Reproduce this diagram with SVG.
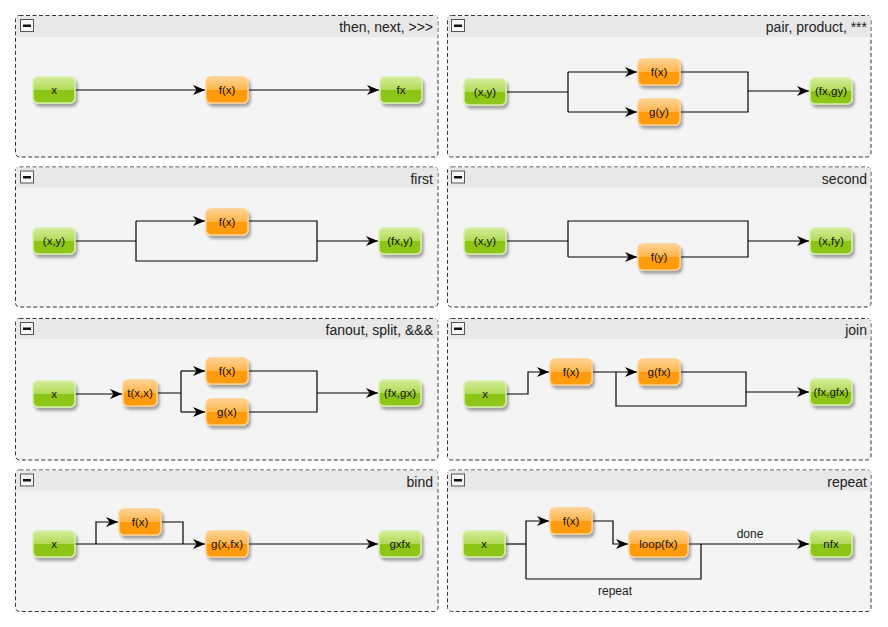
<svg xmlns="http://www.w3.org/2000/svg" width="888" height="627" viewBox="0 0 888 627">
<defs>
<linearGradient id="gOr" x1="0" y1="0" x2="0" y2="1">
<stop offset="0" stop-color="#ffd294"/><stop offset="0.5" stop-color="#ffb548"/><stop offset="0.5" stop-color="#ff9a08"/><stop offset="1" stop-color="#ff9c10"/>
</linearGradient>
<linearGradient id="gGr" x1="0" y1="0" x2="0" y2="1">
<stop offset="0" stop-color="#d2ee9a"/><stop offset="0.5" stop-color="#b0da55"/><stop offset="0.5" stop-color="#8cc414"/><stop offset="1" stop-color="#90c61c"/>
</linearGradient>
<filter id="sh" x="-30%" y="-30%" width="160%" height="170%">
<feGaussianBlur in="SourceAlpha" stdDeviation="1.6"/>
<feOffset dx="2" dy="2.5" result="b"/>
<feComponentTransfer><feFuncA type="linear" slope="0.35"/></feComponentTransfer>
<feMerge><feMergeNode/><feMergeNode in="SourceGraphic"/></feMerge>
</filter>
<marker id="arr" viewBox="0 0 12 10" refX="12" refY="5" markerWidth="12" markerHeight="10" markerUnits="userSpaceOnUse" orient="auto">
<path d="M0,0 L12,5 L0,10 L3.5,5 z" fill="#000"/>
</marker>
</defs>
<style>
.panel{fill:#f4f4f4;stroke:#333;stroke-width:1;stroke-dasharray:4,2.5}
.hdr{fill:#e8e8e8}
.btn{fill:#f6f6f6;stroke:#555;stroke-width:1}
.minus{fill:#111}
.title{font-family:"Liberation Sans",Arial,sans-serif;font-size:14px;fill:#222;text-anchor:end}
.or{fill:url(#gOr);stroke:#ffd08c;stroke-width:1.5;filter:url(#sh)}
.gr{fill:url(#gGr);stroke:#d6efa6;stroke-width:1.5;filter:url(#sh)}
.nt{font-family:"Liberation Sans",Arial,sans-serif;font-size:11.5px;fill:#111;text-anchor:middle}
.e{fill:none;stroke:#000;stroke-width:1.2}
.ea{fill:none;stroke:#000;stroke-width:1.2;marker-end:url(#arr)}
.lbl{font-family:"Liberation Sans",Arial,sans-serif;font-size:12px;fill:#222;text-anchor:middle}
</style>

<!-- panels -->
<g id="panel-then">
<rect class="panel" x="15.5" y="15.5" width="422.5" height="141.5" rx="4"/>
<rect class="hdr" x="16" y="16" width="421.5" height="21"/>
<rect class="btn" x="20.5" y="19.5" width="13" height="12"/><rect class="minus" x="23" y="24.5" width="8" height="2.5"/>
<text class="title" x="433" y="32">then, next, &gt;&gt;&gt;</text>
</g>
<g id="panel-pair">
<rect class="panel" x="447.5" y="15.5" width="423.5" height="141.5" rx="4"/>
<rect class="hdr" x="448" y="16" width="422.5" height="21"/>
<rect class="btn" x="451.5" y="19.5" width="13" height="12"/><rect class="minus" x="454" y="24.5" width="8" height="2.5"/>
<text class="title" x="867" y="32">pair, product, ***</text>
</g>
<g id="panel-first">
<rect class="panel" x="15.5" y="167" width="422.5" height="140" rx="4"/>
<rect class="hdr" x="16" y="167.5" width="421.5" height="20"/>
<rect class="btn" x="20.5" y="171" width="13" height="12"/><rect class="minus" x="23" y="176" width="8" height="2.5"/>
<text class="title" x="433" y="183.5">first</text>
</g>
<g id="panel-second">
<rect class="panel" x="447.5" y="167" width="423.5" height="140" rx="4"/>
<rect class="hdr" x="448" y="167.5" width="422.5" height="20"/>
<rect class="btn" x="451.5" y="171" width="13" height="12"/><rect class="minus" x="454" y="176" width="8" height="2.5"/>
<text class="title" x="867" y="183.5">second</text>
</g>
<g id="panel-fanout">
<rect class="panel" x="15.5" y="318.5" width="422.5" height="141.5" rx="4"/>
<rect class="hdr" x="16" y="319" width="421.5" height="20"/>
<rect class="btn" x="20.5" y="322.5" width="13" height="12"/><rect class="minus" x="23" y="327.5" width="8" height="2.5"/>
<text class="title" x="433" y="335">fanout, split, &amp;&amp;&amp;</text>
</g>
<g id="panel-join">
<rect class="panel" x="447.5" y="318.5" width="423.5" height="141.5" rx="4"/>
<rect class="hdr" x="448" y="319" width="422.5" height="20"/>
<rect class="btn" x="451.5" y="322.5" width="13" height="12"/><rect class="minus" x="454" y="327.5" width="8" height="2.5"/>
<text class="title" x="867" y="335">join</text>
</g>
<g id="panel-bind">
<rect class="panel" x="15.5" y="470" width="422.5" height="141.5" rx="4"/>
<rect class="hdr" x="16" y="470.5" width="421.5" height="20"/>
<rect class="btn" x="20.5" y="474" width="13" height="12"/><rect class="minus" x="23" y="479" width="8" height="2.5"/>
<text class="title" x="433" y="486.5">bind</text>
</g>
<g id="panel-repeat">
<rect class="panel" x="447.5" y="470" width="423.5" height="141.5" rx="4"/>
<rect class="hdr" x="448" y="470.5" width="422.5" height="20"/>
<rect class="btn" x="451.5" y="474" width="13" height="12"/><rect class="minus" x="454" y="479" width="8" height="2.5"/>
<text class="title" x="867" y="486.5">repeat</text>
</g>

<!-- connectors -->
<g id="connectors">
<!-- then -->
<path class="ea" d="M75,90 H205"/>
<path class="ea" d="M249,90 H379"/>
<!-- pair -->
<path class="e" d="M507,92 H568 M568,72 V112"/>
<path class="ea" d="M568,72 H637"/>
<path class="ea" d="M568,112 H637"/>
<path class="e" d="M681,72 H748 V112 H681"/>
<path class="ea" d="M748,91 H809"/>
<!-- first -->
<path class="e" d="M75,241 H136 M136,221 V261 H317 V221 H249"/>
<path class="ea" d="M136,221 H205"/>
<path class="ea" d="M317,241 H378"/>
<!-- second -->
<path class="e" d="M507,241 H568 M568,257 V221 H748 V257 H681"/>
<path class="ea" d="M568,257 H637"/>
<path class="ea" d="M748,241 H809"/>
<!-- fanout -->
<path class="ea" d="M75,394 H122"/>
<path class="e" d="M158,393 H181 M181,371 V412"/>
<path class="ea" d="M181,371 H205"/>
<path class="ea" d="M181,412 H205"/>
<path class="e" d="M249,371 H317 V412 H249"/>
<path class="ea" d="M317,393 H378"/>
<!-- join -->
<path class="ea" d="M506,394 H528 V372 H549"/>
<path class="ea" d="M593,372 H637"/>
<path class="e" d="M616,372 V406 H746 V372 H681"/>
<path class="ea" d="M746,392 H809"/>
<!-- bind -->
<path class="ea" d="M75,544 H205"/>
<path class="ea" d="M96,544 V522 H118"/>
<path class="e" d="M162,522 H183 V544"/>
<path class="ea" d="M249,544 H378"/>
<!-- repeat -->
<path class="e" d="M506,544 H526"/>
<path class="ea" d="M526,579 V521 H549"/>
<path class="ea" d="M593,521 H613 V544 H628"/>
<path class="ea" d="M689,544 H809"/>
<path class="e" d="M701,544 V579 H526"/>
<text class="lbl" x="750" y="538">done</text>
<text class="lbl" x="615" y="595">repeat</text>
</g>

<!-- nodes -->
<g id="n-then-x"><rect class="gr" x="33" y="77" width="42" height="26" rx="5"/><text class="nt" x="54" y="94">x</text></g>
<g id="n-then-f"><rect class="or" x="206" y="77" width="42" height="26" rx="5"/><text class="nt" x="227" y="94">f(x)</text></g>
<g id="n-then-fx"><rect class="gr" x="380" y="77" width="42" height="26" rx="5"/><text class="nt" x="401" y="94">fx</text></g>

<g id="n-pair-xy"><rect class="gr" x="464" y="79" width="42" height="26" rx="5"/><text class="nt" x="485" y="96">(x,y)</text></g>
<g id="n-pair-f"><rect class="or" x="638" y="59" width="42" height="26" rx="5"/><text class="nt" x="659" y="76">f(x)</text></g>
<g id="n-pair-g"><rect class="or" x="638" y="99" width="42" height="26" rx="5"/><text class="nt" x="659" y="116">g(y)</text></g>
<g id="n-pair-out"><rect class="gr" x="810" y="78" width="42" height="26" rx="5"/><text class="nt" x="831" y="95">(fx,gy)</text></g>

<g id="n-first-xy"><rect class="gr" x="33" y="228" width="42" height="26" rx="5"/><text class="nt" x="54" y="245">(x,y)</text></g>
<g id="n-first-f"><rect class="or" x="206" y="209" width="42" height="26" rx="5"/><text class="nt" x="227" y="226">f(x)</text></g>
<g id="n-first-out"><rect class="gr" x="379" y="228" width="42" height="26" rx="5"/><text class="nt" x="400" y="245">(fx,y)</text></g>

<g id="n-second-xy"><rect class="gr" x="464" y="228" width="42" height="26" rx="5"/><text class="nt" x="485" y="245">(x,y)</text></g>
<g id="n-second-f"><rect class="or" x="638" y="244" width="42" height="26" rx="5"/><text class="nt" x="659" y="261">f(y)</text></g>
<g id="n-second-out"><rect class="gr" x="810" y="228" width="42" height="26" rx="5"/><text class="nt" x="831" y="245">(x,fy)</text></g>

<g id="n-fan-x"><rect class="gr" x="33" y="381" width="42" height="26" rx="5"/><text class="nt" x="54" y="398">x</text></g>
<g id="n-fan-t"><rect class="or" x="123" y="380" width="34" height="26" rx="5"/><text class="nt" x="140" y="397">t(x,x)</text></g>
<g id="n-fan-f"><rect class="or" x="206" y="358" width="42" height="26" rx="5"/><text class="nt" x="227" y="375">f(x)</text></g>
<g id="n-fan-g"><rect class="or" x="206" y="399" width="42" height="26" rx="5"/><text class="nt" x="227" y="416">g(x)</text></g>
<g id="n-fan-out"><rect class="gr" x="379" y="380" width="42" height="26" rx="5"/><text class="nt" x="400" y="397">(fx,gx)</text></g>

<g id="n-join-x"><rect class="gr" x="464" y="381" width="42" height="26" rx="5"/><text class="nt" x="485" y="398">x</text></g>
<g id="n-join-f"><rect class="or" x="550" y="359" width="42" height="26" rx="5"/><text class="nt" x="571" y="376">f(x)</text></g>
<g id="n-join-g"><rect class="or" x="638" y="359" width="42" height="26" rx="5"/><text class="nt" x="659" y="376">g(fx)</text></g>
<g id="n-join-out"><rect class="gr" x="810" y="379" width="42" height="26" rx="5"/><text class="nt" x="831" y="396">(fx,gfx)</text></g>

<g id="n-bind-x"><rect class="gr" x="33" y="531" width="42" height="26" rx="5"/><text class="nt" x="54" y="548">x</text></g>
<g id="n-bind-f"><rect class="or" x="119" y="509" width="42" height="26" rx="5"/><text class="nt" x="140" y="526">f(x)</text></g>
<g id="n-bind-g"><rect class="or" x="206" y="531" width="42" height="26" rx="5"/><text class="nt" x="227" y="548">g(x,fx)</text></g>
<g id="n-bind-out"><rect class="gr" x="379" y="531" width="42" height="26" rx="5"/><text class="nt" x="400" y="548">gxfx</text></g>

<g id="n-rep-x"><rect class="gr" x="463" y="531" width="42" height="26" rx="5"/><text class="nt" x="484" y="548">x</text></g>
<g id="n-rep-f"><rect class="or" x="550" y="508" width="42" height="26" rx="5"/><text class="nt" x="571" y="525">f(x)</text></g>
<g id="n-rep-loop"><rect class="or" x="629" y="531" width="59" height="26" rx="5"/><text class="nt" x="658.5" y="548">loop(fx)</text></g>
<g id="n-rep-out"><rect class="gr" x="810" y="531" width="42" height="26" rx="5"/><text class="nt" x="831" y="548">nfx</text></g>
</svg>
